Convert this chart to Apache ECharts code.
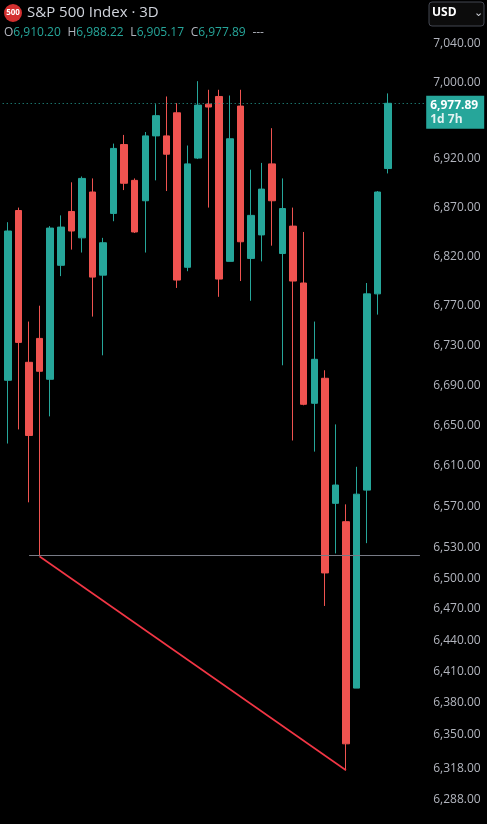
<!DOCTYPE html>
<html>
<head>
<meta charset="utf-8">
<script src="https://cdn.jsdelivr.net/npm/echarts@6/dist/echarts.min.js"></script>
<style>
  html, body { margin: 0; padding: 0; background: #000; }
  #chart { width: 487px; height: 824px; }
</style>
</head>
<body>
<div id="chart"></div>
<script>
// 3D candles (last 3 slots are empty space)
const opens  = [6695, 6867, 6713, 6737, 6696, 6811, 6866, 6839, 6886, 6801, 6864, 6935, 6898, 6877, 6944, 6944, 6968, 6809, 6921,
                6977, 6985, 6815, 6975, 6818, 6842, 6915, 6823, 6851, 6793, 6672, 6697, 6573, 6555, 6394, 6586, 6782, 6910.20];
const closes = [6846, 6733, 6640, 6704, 6849, 6850, 6846, 6900, 6799, 6834, 6931, 6895, 6845, 6944, 6965, 6925, 6796, 6915, 6976,
                6974, 6797, 6941, 6835, 6862, 6889, 6877, 6869, 6795, 6671, 6716, 6505, 6591, 6341, 6582, 6782, 6886, 6977.89];
const highs  = [6855, 6870, 6754, 6770, 6851, 6862, 6896, 6902, 6900, 6839, 6936, 6945, 6900, 6948, 6977, 6985, 6978, 6934, 7001,
                6992, 6992, 6986, 6992, 6909, 6916, 6952, 6900, 6870, 6845, 6754, 6705, 6651, 6572, 6609, 6793, 6887, 6988.22];
const lows   = [6632, 6646, 6574, 6521, 6659, 6800, 6827, 6824, 6759, 6720, 6856, 6888, 6844, 6824, 6898, 6887, 6788, 6805, 6920,
                6870, 6779, 6815, 6795, 6775, 6815, 6831, 6710, 6635, 6670, 6624, 6473, 6524, 6316, 6394, 6534, 6761, 6905.17];
const emptySlots = 3;

const priceTicks = [7040, 7000, 6920, 6870, 6820, 6770, 6730, 6690, 6650, 6610, 6570, 6530, 6500, 6470, 6440, 6410, 6380, 6350, 6318, 6288];
const lastPrice = 6977.89;
const supportLevel = 6522;
const trendFrom = [3, 6521];   // [slot, price]
const trendTo = [32, 6316];
const supportFrom = 2;

const up = '#26a69a', down = '#ef5350';
const fmt = v => v.toLocaleString('en-US', { minimumFractionDigits: 2, maximumFractionDigits: 2 });

const slots = opens.length + emptySlots;
const cats = Array.from({ length: slots }, (_, i) => String(i));
const candles = opens.map((o, i) => [o, closes[i], lows[i], highs[i]]);
for (let i = 0; i < emptySlots; i++) candles.push('-');

const chart = echarts.init(document.getElementById('chart'));
chart.setOption({
  backgroundColor: '#000',
  animation: false,
  grid: { left: 2.7, right: 61.8, top: 40, bottom: 24 },
  xAxis: {
    type: 'category', data: cats, boundaryGap: true,
    axisLine: { show: false }, axisTick: { show: false }, axisLabel: { show: false }, splitLine: { show: false }
  },
  yAxis: {
    type: 'log', position: 'right', min: 6288, max: 7044.2,
    axisLine: { show: false }, axisTick: { show: false }, splitLine: { show: false },
    axisLabel: {
      customValues: priceTicks, color: '#b2b5be', fontSize: 12, fontFamily: 'Open Sans',
      margin: 8, formatter: v => fmt(v)
    }
  },
  series: [{
    type: 'candlestick',
    data: candles,
    barWidth: 7,
    itemStyle: { color: up, color0: down, borderColor: up, borderColor0: down, borderWidth: 1 },
    markLine: {
      symbol: 'none', silent: true,
      data: [
        {
          yAxis: lastPrice,
          lineStyle: { color: up, type: [1, 3], width: 1 },
          label: {
            show: true, position: 'end', distance: 1, offset: [0, 9],
            formatter: fmt(lastPrice) + '\n{s|1d 7h}',
            backgroundColor: up, color: '#fff', fontWeight: 'bold', fontSize: 12, fontFamily: 'Open Sans',
            padding: [3, 4, 2, 4], lineHeight: 14, align: 'left', width: 50,
            rich: { s: { color: '#e0f2f1', fontSize: 12, fontFamily: 'Open Sans', fontWeight: 'bold', lineHeight: 14 } }
          }
        },
        [
          { coord: [String(supportFrom), supportLevel], lineStyle: { color: '#787b86', type: 'solid', width: 1.2 }, label: { show: false } },
          { coord: [String(slots - 1), supportLevel] }
        ],
        [
          { coord: [String(trendFrom[0]), trendFrom[1]], lineStyle: { color: '#f23645', type: 'solid', width: 1.6 }, label: { show: false } },
          { coord: [String(trendTo[0]), trendTo[1]] }
        ]
      ]
    }
  }],
  graphic: [
    { type: 'circle', shape: { cx: 13, cy: 13, r: 9 }, style: { fill: '#d32f2f' } },
    { type: 'text', x: 13, y: 13, style: { text: '500', fill: '#fff', font: 'bold 8px "Open Sans"', align: 'center', verticalAlign: 'middle' } },
    { type: 'text', x: 27, y: 5, style: { text: 'S&P 500 Index · 3D', fill: '#d1d4dc', font: '15px "Open Sans"' } },
    {
      type: 'text', x: 4, y: 27,
      style: {
        text: '{l|O}{v|6,910.20}  {l|H}{v|6,988.22}  {l|L}{v|6,905.17}  {l|C}{v|6,977.89}  {l|---}',
        rich: {
          l: { fill: '#b2b5be', font: '12px "Open Sans"' },
          v: { fill: up, font: '12px "Open Sans"' }
        }
      }
    },
    { type: 'rect', shape: { x: 429, y: 2, width: 55, height: 24, r: 3 }, style: { fill: '#0c0c0c', stroke: '#434651', lineWidth: 1 } },
    { type: 'text', x: 432, y: 7, style: { text: 'USD', fill: '#fff', font: 'bold 12px "Open Sans"' } },
    { type: 'text', x: 474, y: 8, style: { text: '⌄', fill: '#d1d4dc', font: '11px "DejaVu Sans"' } }
  ]
});
</script>
</body>
</html>
